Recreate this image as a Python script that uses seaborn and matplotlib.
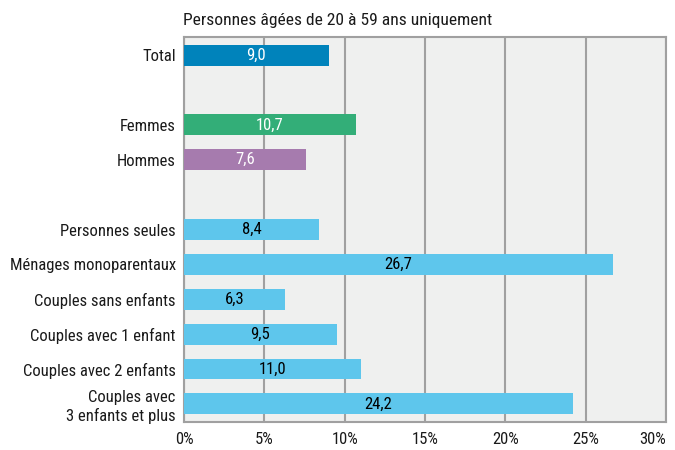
import matplotlib
matplotlib.use("Agg")
import matplotlib.pyplot as plt
import seaborn as sns
import pandas as pd
from matplotlib import font_manager

categories = ["Total", "", "Femmes", "Hommes", " ",
              "Personnes seules", "Ménages monoparentaux", "Couples sans enfants",
              "Couples avec 1 enfant", "Couples avec 2 enfants",
              "Couples avec\n3 enfants et plus"]
values = [9.0, 0, 10.7, 7.6, 0, 8.4, 26.7, 6.3, 9.5, 11.0, 24.2]
labels = ["9,0", "", "10,7", "7,6", "", "8,4", "26,7", "6,3", "9,5", "11,0", "24,2"]
colors = ["#0083BB", "#FFFFFF", "#33AE78", "#A67BAE", "#FFFFFF",
          "#5EC6EC", "#5EC6EC", "#5EC6EC", "#5EC6EC", "#5EC6EC", "#5EC6EC"]
text_colors = ["white", "white", "white", "white", "white",
               "black", "black", "black", "black", "black", "black"]
xticks = [0, 5, 10, 15, 20, 25, 30]
xticklabels = ["0%", "5%", "10%", "15%", "20%", "25%", "30%"]
title = "Personnes âgées de 20 à 59 ans uniquement"

sns.set_style("white")
names = {f.name for f in font_manager.fontManager.ttflist}
fam = "DejaVu Sans"
for cand in ["Liberation Sans Narrow", "Roboto Condensed", "Open Sans Condensed",
             "DejaVu Sans Condensed", "Liberation Sans"]:
    if cand in names:
        fam = cand
        break
plt.rcParams["font.family"] = [fam, "DejaVu Sans"]
fs = 12 if fam in ("Liberation Sans Narrow", "Roboto Condensed", "Open Sans Condensed") else 9.5

df = pd.DataFrame({"cat": categories, "val": values})
fig = plt.figure(figsize=(6.75, 4.5), dpi=100)
ax = fig.add_axes([184/675, 1-422/450, (666-184)/675, (422-37)/450])
ax.set_facecolor("#EFF0EF")
sns.barplot(data=df, x="val", y="cat", hue="cat", palette=colors, legend=False,
            orient="h", width=0.6, ax=ax, saturation=1, zorder=3)
for bar in ax.patches:
    bar.set_edgecolor("none")
ax.set_xlim(0, 30)
ax.set_ylim(10.52, -0.52)
ax.set_xticks(xticks)
ax.set_xticklabels(xticklabels, fontsize=fs, color="#1A1A1A")
ax.tick_params(axis="x", length=4, width=1.2, color="#A0A0A0", pad=3)
ax.tick_params(axis="y", length=0, pad=6, labelsize=fs, labelcolor="#1A1A1A")
for t in ax.get_yticklabels():
    t.set_linespacing(1.25)
ax.get_xticklabels()[-1].set_ha("right")
ax.grid(axis="x", color="#A0A0A0", linewidth=1.5, zorder=0)
ax.set_axisbelow(True)
for s in ax.spines.values():
    s.set_color("#A0A0A0")
    s.set_linewidth(1.5)
ax.set_xlabel("")
ax.set_ylabel("")
for i, (v, lab, tc) in enumerate(zip(values, labels, text_colors)):
    if lab:
        ax.text(v/2, i, lab, ha="center", va="center", color=tc, fontsize=fs, zorder=4)
fig.text(183/675, 1-20/450, title, ha="left", va="center", fontsize=fs*1.05, color="#1A1A1A")
fig.savefig("out.png", dpi=100)
